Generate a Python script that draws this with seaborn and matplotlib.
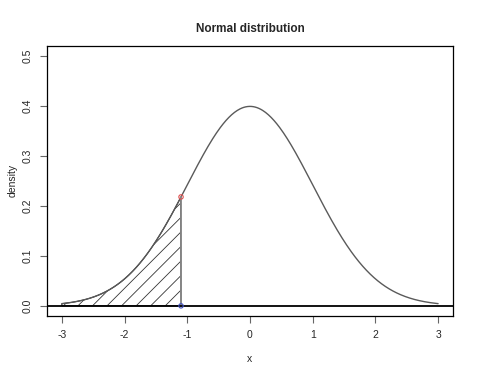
import numpy as np
import pandas as pd
import matplotlib
matplotlib.use("Agg")
import matplotlib.pyplot as plt
from matplotlib.patches import Polygon
import seaborn as sns

# Chart definition
mu = 0.0
sigma = 1.0
x_min, x_max = -3.0, 3.0
cut_x = -1.1
x_ticks = [-3, -2, -1, 0, 1, 2, 3]
y_ticks = [0.0, 0.1, 0.2, 0.3, 0.4, 0.5]
title = "Normal distribution"
x_label = "x"
y_label = "density"

def dnorm(v):
    return np.exp(-0.5 * ((v - mu) / sigma) ** 2) / (sigma * np.sqrt(2 * np.pi))

xs = np.linspace(x_min, x_max, 400)
df = pd.DataFrame({"x": xs, "density": dnorm(xs)})
shade = df[df["x"] <= cut_x]

sns.set_style("white")
plt.rcParams["font.family"] = ["Liberation Sans", "DejaVu Sans"]

fig = plt.figure(figsize=(4.78, 3.76), dpi=100)
ax = fig.add_axes([0.098, 0.16, 0.85, 0.718])
ax.set_xlim(-3.24, 3.24)
ax.set_ylim(-0.02, 0.52)

# shaded polygon outline
px = np.concatenate([[x_min], shade["x"].values, [cut_x]])
py = np.concatenate([[0.0], shade["density"].values, [0.0]])
poly = Polygon(np.column_stack([px, py]), closed=True, facecolor="none",
               edgecolor="black", linewidth=0.7, zorder=2)
ax.add_patch(poly)

# 45-degree hatch lines (in pixel space), clipped to the polygon
bbox = ax.get_window_extent()
sx = bbox.width / (3.24 * 2)
sy = bbox.height / 0.54
slope = sx / sy
spacing = 0.232
for x0 in np.arange(-1.12, -3.6, -spacing):
    lx = np.array([x0, x0 + 0.3 / slope])
    ly = slope * (lx - x0)
    ln, = ax.plot(lx, ly, color="#333333", linewidth=0.6, zorder=2)
    ln.set_clip_path(poly)

sns.lineplot(data=df, x="x", y="density", ax=ax, color="#5a5a5a", linewidth=1.0, zorder=3)

ax.axhline(0, color="black", linewidth=1.3, zorder=4)
ax.plot([cut_x, cut_x], [0, dnorm(cut_x)], color="#888888", linewidth=1.3, zorder=3)
ax.scatter([cut_x], [dnorm(cut_x)], s=10, facecolor="none", edgecolor="#e05050", linewidth=0.8, zorder=5)
ax.scatter([cut_x], [0.0], s=10, facecolor="none", edgecolor="#4050c0", linewidth=0.8, zorder=5)

ax.set_xticks(x_ticks)
ax.set_xticklabels([str(t) for t in x_ticks])
ax.set_yticks(y_ticks)
ax.set_yticklabels([f"{t:.1f}" for t in y_ticks], rotation=90, va="center")
ax.tick_params(axis="both", direction="out", length=5, width=0.8, labelsize=7.5,
               color="#666666", pad=5, left=True, bottom=True)
for s in ax.spines.values():
    s.set_color("black")
    s.set_linewidth(0.9)
    s.set_visible(True)

ax.set_xlabel(x_label, fontsize=7.5, labelpad=10)
ax.set_ylabel(y_label, fontsize=7.5, labelpad=4)
ax.set_title(title, fontsize=8.5, fontweight="bold", pad=10)

fig.savefig("out.png", dpi=100)
